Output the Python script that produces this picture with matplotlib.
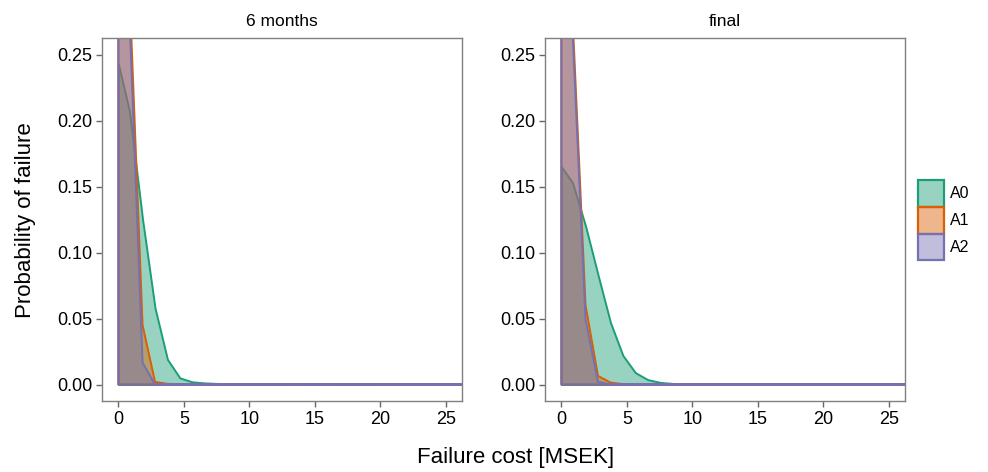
import matplotlib
matplotlib.use("Agg")
import matplotlib.pyplot as plt
from matplotlib.colors import to_rgba
from matplotlib.patches import Patch

plt.rcParams['font.family'] = ['Liberation Sans', 'DejaVu Sans']

# failure cost grid [MSEK]
cost = [0, 0.85, 1.85, 2.8, 3.75, 4.7, 5.65, 6.6, 7.55, 8.5, 9.5, 12, 15, 18, 21, 24, 28]

# 6 months
m6_A0 = [0.243, 0.207, 0.125, 0.058, 0.019, 0.005, 0.002, 0.0012, 0.0008, 0.0006, 0.0005,
         0.0003, 0.0002, 0.0004, 0.0002, 0.0001, 0.0001]
m6_A1 = [0.38, 0.30, 0.045, 0.002, 0.0005, 0.0003, 0.0002, 0.0002, 0.0001, 0.0001, 0.0001,
         0.0001, 0.0003, 0.0001, 0, 0, 0]
m6_A2 = [0.45, 0.278, 0.0165, 0, 0, 0, 0, 0, 0, 0, 0, 0, 0, 0, 0, 0, 0]

# final
fin_A0 = [0.165, 0.153, 0.120, 0.083, 0.047, 0.022, 0.009, 0.0037, 0.0016, 0.0008, 0.0004,
          0.0002, 0.0001, 0.0001, 0, 0, 0]
fin_A1 = [0.40, 0.28, 0.06, 0.0065, 0.0015, 0.0003, 0, 0, 0, 0, 0, 0, 0, 0, 0, 0, 0]
fin_A2 = [0.42, 0.268, 0.049, 0.002, 0, 0, 0, 0, 0, 0, 0, 0, 0, 0, 0, 0, 0]

groups = ["A0", "A1", "A2"]
colors = ["#1B9E77", "#D95F02", "#7570B3"]
panels = [("6 months", [m6_A0, m6_A1, m6_A2]), ("final", [fin_A0, fin_A1, fin_A2])]

W, H = 988, 472
fig = plt.figure(figsize=(W / 100, H / 100), dpi=100)

lefts = [102, 545]
for (title, series), lx in zip(panels, lefts):
    ax = fig.add_axes([lx / W, (H - 401) / H, 360 / W, 363 / H])
    for y, c in zip(series, colors):
        ax.fill_between(cost, y, 0, facecolor=to_rgba(c, 0.45), edgecolor=c, linewidth=1.4)
    ax.set_xlim(-1.25, 26.25)
    ax.set_ylim(-0.0125, 0.2625)
    ax.set_xticks([0, 5, 10, 15, 20, 25])
    ax.set_yticks([0, 0.05, 0.10, 0.15, 0.20, 0.25])
    ax.set_yticklabels(["0.00", "0.05", "0.10", "0.15", "0.20", "0.25"])
    ax.tick_params(direction='out', length=4, width=1, color='#666666', labelsize=13, pad=3)
    for s in ax.spines.values():
        s.set_color('#808080')
        s.set_linewidth(1)
    ax.set_title(title, fontsize=12.5, pad=9)

fig.text(516 / W, 1 - 458 / H, "Failure cost [MSEK]", ha='center', va='center', fontsize=16)
fig.text(25 / W, 1 - 220 / H, "Probability of failure", ha='center', va='center',
         rotation=90, fontsize=16)

handles = [Patch(facecolor=to_rgba(c, 0.45), edgecolor=c, linewidth=1.6) for c in colors]
fig.legend(handles, groups, loc='upper left', bbox_to_anchor=(918 / W, 1 - 180 / H),
           frameon=False, fontsize=11.5, handlelength=1.6, handleheight=2.2,
           labelspacing=0.0, handletextpad=0.4, borderpad=0, borderaxespad=0)

fig.savefig("out.png", dpi=100)
